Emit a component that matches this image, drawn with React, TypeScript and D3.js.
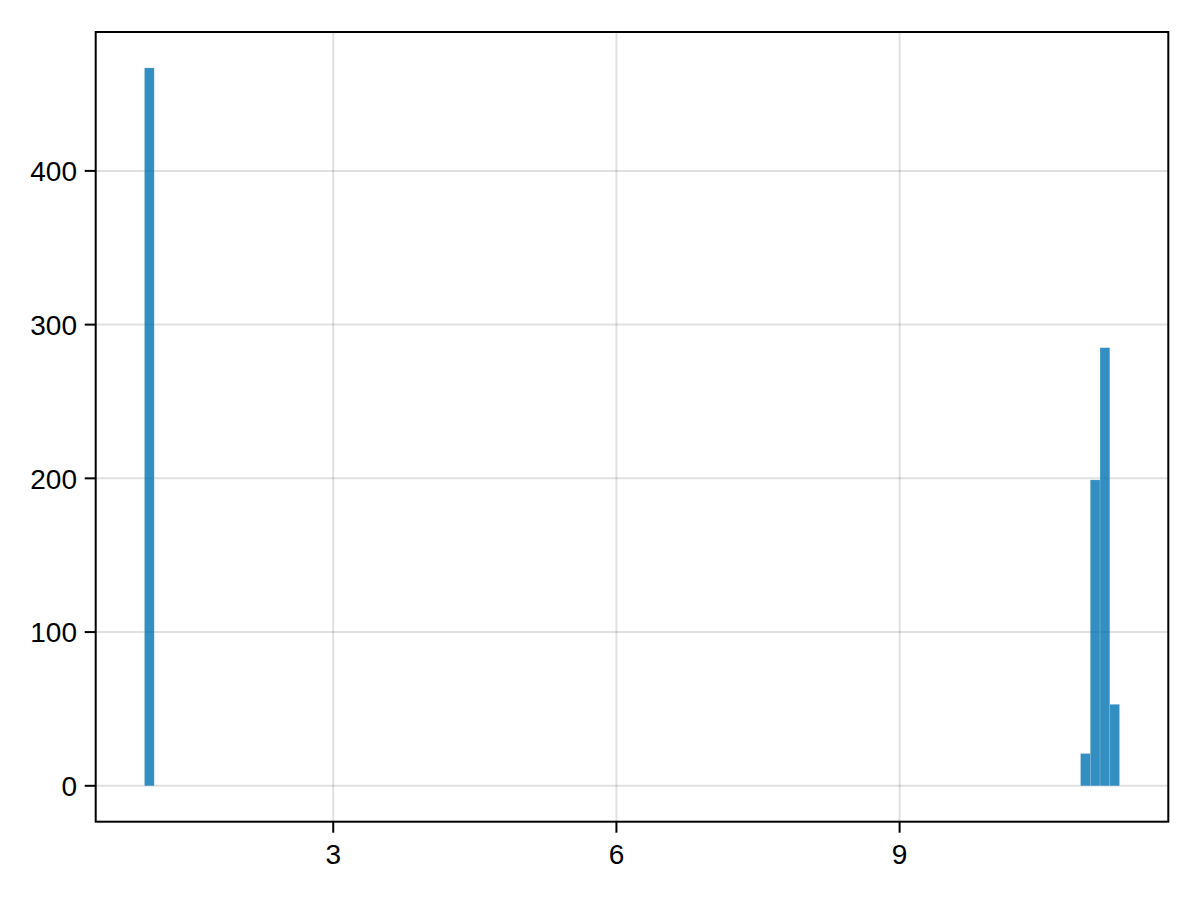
import React from "react";
import * as d3 from "d3";

// Histogram (100 equal bins between dataMin and dataMax); only non-empty bins listed
const dataMin = 1.0;
const dataMax = 11.33;
const binCount = 100;
const binIndex = [0, 96, 97, 98, 99];
const binCounts = [467, 21, 199, 285, 53];

const xTicks = [3, 6, 9];
const yTicks = [0, 100, 200, 300, 400];

const W = 1200;
const H = 900;
const L = 95.7;
const R = 1168.3;
const T = 32;
const B = 821.7;

export default function App() {
  const span = dataMax - dataMin;
  const binW = span / binCount;
  const maxC = d3.max(binCounts) as number;
  const x = d3
    .scaleLinear()
    .domain([dataMin - 0.05 * span, dataMax + 0.05 * span])
    .range([L, R]);
  const y = d3
    .scaleLinear()
    .domain([-0.05 * maxC, 1.05 * maxC])
    .range([B, T]);

  const bars = binIndex.map((bi, i) => ({
    x0: dataMin + bi * binW,
    x1: dataMin + (bi + 1) * binW,
    c: binCounts[i],
  }));

  const font = "'Liberation Sans', Arial, Helvetica, sans-serif";
  const grid = "rgba(0,0,0,0.12)";

  return (
    <div style={{ position: "absolute", left: 0, top: 0 }}>
      <svg width={W} height={H} xmlns="http://www.w3.org/2000/svg">
        <rect x={0} y={0} width={W} height={H} fill="#ffffff" />
        {/* grid */}
        {xTicks.map((t) => (
          <line key={"gx" + t} x1={x(t)} x2={x(t)} y1={T} y2={B} stroke={grid} strokeWidth={2} />
        ))}
        {yTicks.map((t) => (
          <line key={"gy" + t} x1={L} x2={R} y1={y(t)} y2={y(t)} stroke={grid} strokeWidth={2} />
        ))}
        {/* bars */}
        {bars.map((b, i) => (
          <rect
            key={"b" + i}
            x={x(b.x0)}
            y={y(b.c)}
            width={x(b.x1) - x(b.x0)}
            height={y(0) - y(b.c)}
            fill="#0072B2"
            fillOpacity={0.8}
            stroke="#ffffff"
            strokeOpacity={0.25}
            strokeWidth={0.6}
          />
        ))}
        {/* spines */}
        <rect x={L} y={T} width={R - L} height={B - T} fill="none" stroke="#000" strokeWidth={2} />
        {/* x ticks */}
        {xTicks.map((t) => (
          <g key={"xt" + t}>
            <line x1={x(t)} x2={x(t)} y1={B} y2={B + 11} stroke="#000" strokeWidth={2} />
            <text x={x(t)} y={864} textAnchor="middle" fontFamily={font} fontSize={28} fill="#000">
              {t}
            </text>
          </g>
        ))}
        {/* y ticks */}
        {yTicks.map((t) => (
          <g key={"yt" + t}>
            <line x1={L - 11} x2={L} y1={y(t)} y2={y(t)} stroke="#000" strokeWidth={2} />
            <text x={77} y={y(t) + 10.2} textAnchor="end" fontFamily={font} fontSize={28} fill="#000">
              {t}
            </text>
          </g>
        ))}
      </svg>
    </div>
  );
}
